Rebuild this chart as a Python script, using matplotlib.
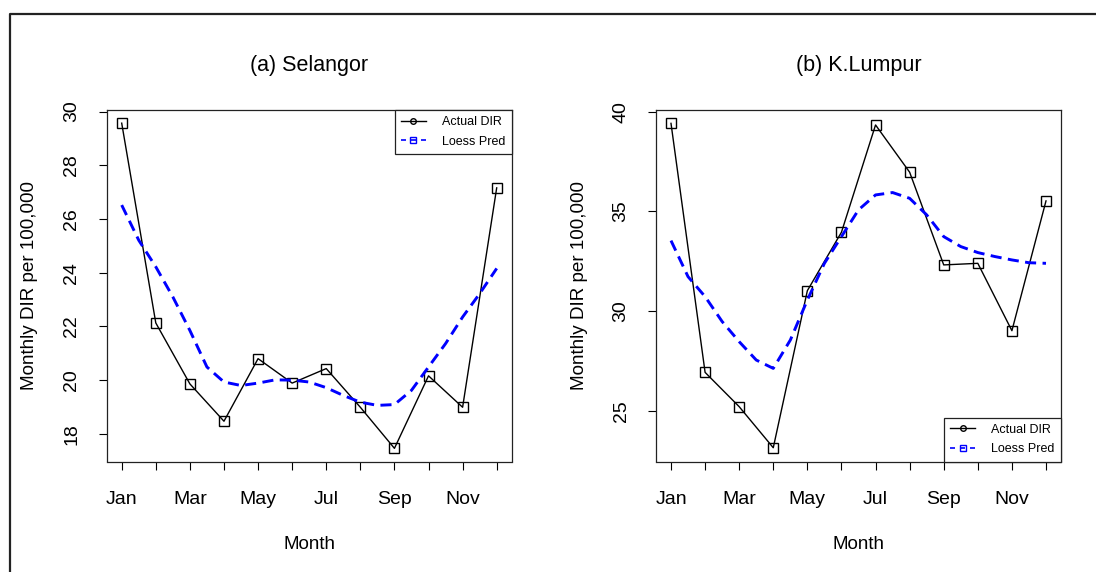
import matplotlib
import matplotlib.pyplot as plt
from matplotlib.lines import Line2D

matplotlib.rcParams["font.family"] = ["Liberation Sans", "DejaVu Sans"]
plt.switch_backend("agg")

# -----------------------------
# data
# -----------------------------
MONTHS = list(range(1, 13))
MONTH_LABELS = ["Jan", "", "Mar", "", "May", "", "Jul", "", "Sep", "", "Nov", ""]

# loess curve sampled every half month
LOESS_X = [1 + 0.5 * i for i in range(23)]

SEL_ACTUAL = [29.57, 22.13, 19.86, 18.47, 20.80, 19.89,
              20.43, 18.99, 17.46, 20.16, 18.99, 27.16]
SEL_LOESS = [26.52, 25.21, 24.22, 23.10, 21.85, 20.49, 19.93, 19.80,
             19.89, 20.01, 20.00, 19.93, 19.72, 19.43, 19.18, 19.06,
             19.09, 19.62, 20.49, 21.36, 22.35, 23.22, 24.16]

KL_ACTUAL = [39.41, 26.92, 25.20, 23.14, 31.02, 33.95,
             39.33, 36.96, 32.31, 32.39, 29.01, 35.52]
KL_LOESS = [33.53, 31.72, 30.72, 29.47, 28.46, 27.54, 27.12, 28.54,
            30.55, 32.39, 33.73, 35.07, 35.82, 35.94, 35.65, 34.82,
            33.73, 33.23, 32.93, 32.73, 32.56, 32.42, 32.39]

PANELS = [
    {"title": "(a) Selangor", "actual": SEL_ACTUAL, "loess": SEL_LOESS,
     "ylim": (16.97, 30.06), "yticks": [18, 20, 22, 24, 26, 28, 30],
     "legend": "upper right", "left": 106.7},
    {"title": "(b) K.Lumpur", "actual": KL_ACTUAL, "loess": KL_LOESS,
     "ylim": (22.45, 40.08), "yticks": [25, 30, 35, 40],
     "legend": "lower right", "left": 656.0},
]

W, H = 1096, 572


def draw_panel(ax, p):
    ax.plot(MONTHS, p["actual"], color="black", linewidth=1.0,
            marker="s", markersize=7, markerfacecolor="none",
            markeredgewidth=1.0)
    ax.plot(LOESS_X, p["loess"], color="#0000ff", linewidth=2.1,
            linestyle=(0, (3.8, 2.2)))

    ax.set_xlim(0.56, 12.44)
    ax.set_ylim(*p["ylim"])
    ax.set_xticks(MONTHS)
    ax.set_xticklabels(MONTH_LABELS)
    ax.set_yticks(p["yticks"])
    ax.set_yticklabels([str(t) for t in p["yticks"]], rotation=90, va="center")
    ax.tick_params(axis="both", length=6, width=0.8, labelsize=14, pad=13)
    ax.tick_params(axis="x", pad=15)
    for s in ax.spines.values():
        s.set_linewidth(0.9)
        s.set_color("#222222")

    ax.set_xlabel("Month", fontsize=13.5)
    ax.xaxis.set_label_coords(0.5, -0.236)
    ax.xaxis.label.set_va("center")
    ax.set_ylabel("Monthly DIR per 100,000", fontsize=13.6)
    ax.yaxis.set_label_coords(-0.19, 0.5)
    ax.yaxis.label.set_va("center")

    ax.text(0.5, 1.128, p["title"], transform=ax.transAxes,
            ha="center", va="center", fontsize=15.5)

    handles = [
        Line2D([], [], color="black", linewidth=1.0, marker="o",
               markersize=4, markerfacecolor="none"),
        Line2D([], [], color="#0000ff", linewidth=1.2, linestyle=(0, (3, 3)),
               marker="s", markersize=4, markerfacecolor="none"),
    ]
    leg = ax.legend(handles, ["Actual DIR", "Loess Pred"], loc=p["legend"],
                    borderaxespad=0, fontsize=9, fancybox=False,
                    framealpha=1, edgecolor="#222222", handlelength=2.0,
                    handletextpad=1.3, labelspacing=0.6, borderpad=0.5)
    leg.get_frame().set_linewidth(0.9)


def main():
    fig = plt.figure(figsize=(W / 100, H / 100), dpi=100)
    fig.patch.set_facecolor("white")

    for p in PANELS:
        ax = fig.add_axes([p["left"] / W, 1 - 461.5 / H, 405 / W, 351.5 / H])
        draw_panel(ax, p)

    # outer frame, cut off at right and bottom like the source
    fig.add_artist(Line2D([10 / W, 10 / W, 1.0], [0.0, 1 - 14 / H, 1 - 14 / H],
                          transform=fig.transFigure, color="#222222",
                          linewidth=1.6))

    fig.savefig("out.png", dpi=100, facecolor="white")
    plt.close(fig)


if __name__ == "__main__":
    main()
